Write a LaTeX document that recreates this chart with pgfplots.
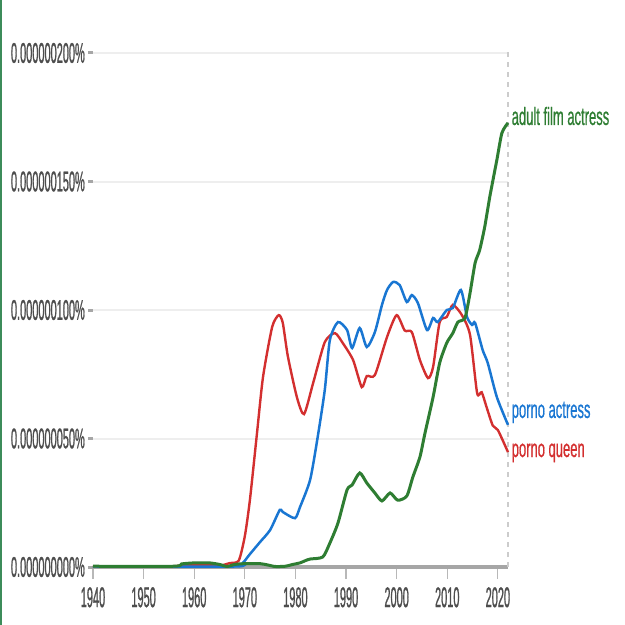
\documentclass[border=0pt]{standalone}
\usepackage{pgfplots}
\pgfplotsset{compat=1.18}
\usepackage{fontspec}
\setmainfont{Liberation Sans}
\newfontfamily\tickfont[FakeStretch=0.385, FakeBold=0.7]{Liberation Sans}
\newfontfamily\labfont[FakeStretch=0.52, FakeBold=0.6]{Liberation Sans}
\definecolor{ngblue}{HTML}{1976D2}
\definecolor{ngred}{HTML}{D32F2F}
\definecolor{nggreen}{HTML}{2E7D32}
\definecolor{ticktext}{HTML}{4D4D4D}
\definecolor{axisgray}{HTML}{A6A6A6}
\definecolor{gridgray}{HTML}{EEEEEE}
\definecolor{border}{HTML}{3C8C5A}
\begin{document}
\begin{tikzpicture}[x=1pt,y=1pt]
\path[use as bounding box] (0,0) rectangle (625,625);
\draw[border, line width=1.5pt] (0.75,0) -- (0.75,625);
\begin{axis}[
  at={(93pt,58pt)}, anchor=south west,
  scale only axis, width=415pt, height=514pt,
  xmin=1940, xmax=2022, ymin=0, ymax=200,
  clip=false,
  axis x line*=bottom, axis y line*=left,
  x axis line style={-, draw=axisgray, line width=3.5pt},
  y axis line style={draw=none},
  xtick={1940,1950,1960,1970,1980,1990,2000,2010,2020},
  xticklabels={1940,1950,1960,1970,1980,1990,2000,2010,2020},
  minor xtick={1940,1950,1960,1970,1980,1990,2000,2010,2020},
  ytick={0,50,100,150,200},
  yticklabels={0.000000000\%,0.000000050\%,0.000000100\%,0.000000150\%,0.000000200\%},
  tick align=outside,
  major tick length=5pt, minor tick length=12pt,
  major x tick style={draw=none},
  minor x tick style={draw=axisgray!80, line width=1.2pt},
  y tick style={draw=axisgray, line width=3pt},
  ymajorgrids, grid style={draw=gridgray, line width=2pt},
  ticklabel style={font=\tickfont\fontsize{28.5}{30}\selectfont, text=ticktext, inner sep=0pt},
  yticklabel style={anchor=east, xshift=-3pt},
  xticklabel style={anchor=north, yshift=-15pt},
]
\addplot[gray!40, line width=2pt, dash pattern=on 5pt off 5pt] coordinates {(2022,0) (2022,200.5)};
\addplot[ngred, line width=2.4pt, smooth, tension=0.4] coordinates {
(1940,0.3) (1950,0.3) (1956,0.3) (1958,0.8) (1962,0.8) (1965,0.5) (1967,1.5) (1968.8,2.5)
(1970,12) (1971,26) (1972.4,52) (1973.6,74) (1975.4,93.4) (1976.7,98) (1977.5,95)
(1978.5,82) (1980.3,66) (1981.7,59.5) (1983.5,71.6) (1985.8,87.5) (1987.8,91) (1989.4,87)
(1991.4,80.5) (1993.1,70) (1994.1,74.3) (1995.7,74.7) (1998.1,89.5) (2000,98) (2001.6,92)
(2003,91.4) (2004.6,80.5) (2006.2,73.5) (2007.2,77.8) (2008.5,95.3) (2009.9,97.3)
(2011.1,102) (2012.9,98) (2014.5,90.3) (2015.9,67.7) (2016.8,68) (2017.8,62) (2019,55)
(2020,53.3) (2022,44.7)};
\addplot[ngblue, line width=2.5pt, smooth, tension=0.4] coordinates {
(1940,0.2) (1968,0.2) (1969.6,1.6) (1971,5) (1973,9.7) (1975,14.4) (1976.9,22.2)
(1977.5,21.4) (1979.9,19) (1980.9,23.3) (1982.9,33.9) (1984.4,50.6) (1985.8,68.9)
(1986.8,88.3) (1988.4,95.3) (1990.2,92.2) (1991.2,85.2) (1992.7,93) (1994.1,85.6)
(1995.7,91.4) (1997.1,102) (1998.1,107.8) (1999.3,110.9) (2000.6,109.7) (2002,103.1)
(2003,105.8) (2004.2,102.7) (2006,92.2) (2007.2,96.9) (2008.1,95.3) (2009.9,100)
(2011.1,100.8) (2012.7,107.8) (2013.9,97.3) (2014.9,94.2) (2015.5,95) (2017,84.4)
(2018,79.4) (2019.8,66.1) (2022,55.3)};
\addplot[nggreen, line width=3pt, smooth, tension=0.4] coordinates {
(1940,0.3) (1956,0.3) (1957.5,1.2) (1960,1.6) (1963,1.6) (1965,1) (1966.5,0.2) (1968,1)
(1970,1.3) (1973,1.3) (1974.5,0.8) (1976,0.2) (1978,0.3) (1979.5,1) (1980.9,1.6) (1982,2.5)
(1982.9,3.1) (1985.4,3.9) (1986.8,9.3) (1988.4,17.1) (1990.2,30) (1991.2,31.9)
(1992.7,36.6) (1994.1,32.7) (1995.7,28.8) (1997.1,25.7) (1998.7,28.8) (2000.2,26)
(2002,27.6) (2003.2,35) (2004.6,42.8) (2005.6,52.1) (2007.2,66.1) (2008.5,79.4)
(2009.9,87.2) (2011.1,91) (2012.1,95.3) (2013.5,96.9) (2014.5,106.6) (2015.5,118.3)
(2016.4,123.3) (2017.4,132.3) (2018.4,144) (2019.8,158.4) (2020.8,168.9) (2022,172.8)};
\node[anchor=base west, inner sep=0pt, text=nggreen, font=\labfont\fontsize{25}{27}\selectfont] at (axis cs:2022.7,172) {adult film actress};
\node[anchor=base west, inner sep=0pt, text=ngblue, font=\labfont\fontsize{25}{27}\selectfont] at (axis cs:2022.7,58) {porno actress};
\node[anchor=base west, inner sep=0pt, text=ngred, font=\labfont\fontsize{25}{27}\selectfont] at (axis cs:2022.7,42.8) {porno queen};
\end{axis}
\end{tikzpicture}
\end{document}
